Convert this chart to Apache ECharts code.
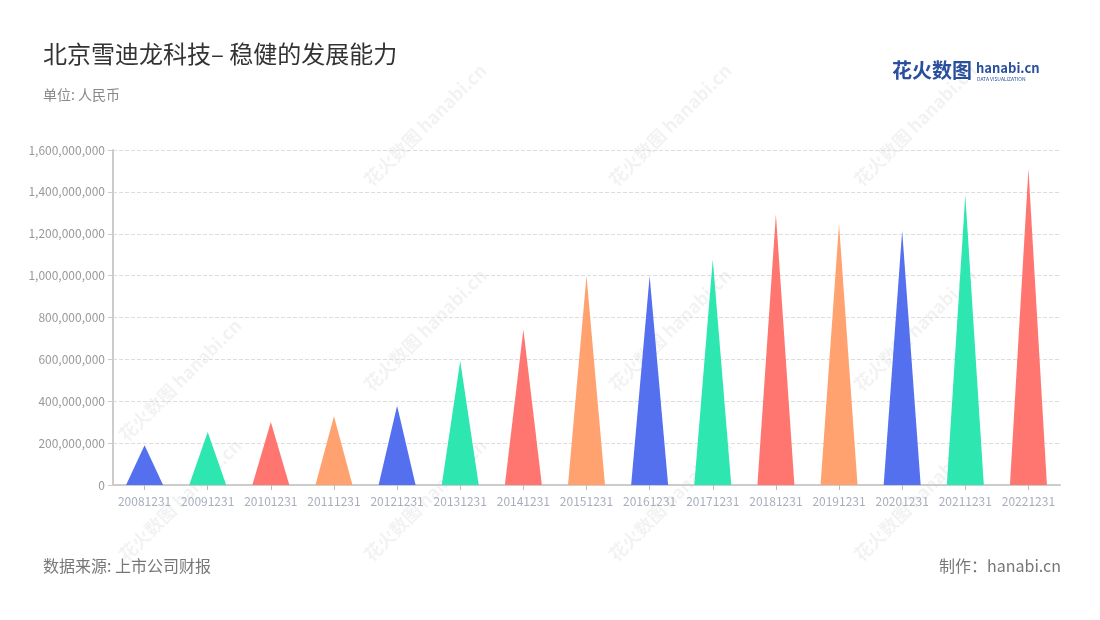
<!DOCTYPE html>
<html><head><meta charset="utf-8">
<script src="https://cdn.jsdelivr.net/npm/echarts@6/dist/echarts.min.js"></script>
<style>html,body{margin:0;padding:0;background:#fff}#c{width:1100px;height:620px}</style>
</head><body><div id="c"></div>
<script>
const categories = ['20081231','20091231','20101231','20111231','20121231','20131231','20141231','20151231','20161231','20171231','20181231','20191231','20201231','20211231','20221231'];
const values = [190000000,253000000,301000000,328000000,378000000,592000000,743000000,1000000000,998000000,1077000000,1293000000,1246000000,1214000000,1385000000,1509000000];
const palette = ['#5470ee','#2ee6b0','#ff7670','#ffa26f'];
const yTicks = {min:0, max:1600000000, interval:200000000};

const FONT = "'Noto Sans CJK SC','Noto Sans',sans-serif";
const chart = echarts.init(document.getElementById('c'));

const wm = [];
const wmPos = [[425,125],[670,125],[915,125],[180,380],[425,330],[670,330],[915,330],[180,500],[425,500],[670,500],[915,500]];
wmPos.forEach(p=>{
  wm.push({type:'text', x:p[0], y:p[1], rotation:Math.PI/4, z:0,
    style:{text:'花火数图 hanabi.cn', fill:'rgba(0,0,0,0.05)', font:"bold 18px "+FONT, align:'center', verticalAlign:'middle'}});
});

chart.setOption({
  backgroundColor:'#fff',
  textStyle:{fontFamily:FONT},
  title:[
    {text:'北京雪迪龙科技– 稳健的发展能力', left:43, top:42, padding:0, textStyle:{fontSize:24, fontWeight:'normal', color:'#333', fontFamily:FONT}},
    {text:'单位: 人民币', left:43, top:88, padding:0, textStyle:{fontSize:14, fontWeight:'normal', color:'#888', fontFamily:FONT}},
    {text:'数据来源: 上市公司财报', left:43, top:558, padding:0, textStyle:{fontSize:16, fontWeight:'normal', color:'#777', fontFamily:FONT}},
    {text:'制作：hanabi.cn', right:39, top:558, padding:0, textStyle:{fontSize:16, fontWeight:'normal', color:'#777', fontFamily:FONT}}
  ],
  graphic:[
    {type:'text', left:892, top:60, style:{text:'花火数图', fill:'#2a4f9e', font:"bold 20px "+FONT}},
    {type:'text', left:976, top:62, style:{text:'hanabi.cn', fill:'#2a4f9e', font:"bold 13px "+FONT}},
    {type:'text', left:977, top:77, style:{text:'DATA VISUALIZATION', fill:'#2a4f9e', font:"5px "+FONT}}
  ].concat(wm),
  grid:{left:113, right:40, top:150, bottom:135},
  xAxis:{
    type:'category', data:categories,
    axisLine:{lineStyle:{color:'#ccc', width:2}},
    axisTick:{show:true, alignWithLabel:true, lineStyle:{color:'#bbb'}},
    axisLabel:{color:'#a8aebb', fontSize:12, margin:10, interval:0, fontFamily:FONT}
  },
  yAxis:{
    type:'value', min:yTicks.min, max:yTicks.max, interval:yTicks.interval,
    axisLine:{show:true, lineStyle:{color:'#ccc', width:2}},
    axisTick:{show:true, lineStyle:{color:'#ccc'}},
    axisLabel:{color:'#999', fontSize:12, fontFamily:FONT, formatter:v=>v.toLocaleString('en-US')},
    splitLine:{lineStyle:{type:'dashed', color:'#ddd'}}
  },
  series:[{
    type:'pictorialBar', symbol:'triangle', symbolSize:[37,'100%'],
    data:values.map((v,i)=>({value:v, itemStyle:{color:palette[i%4]}})),
    z:5
  }]
});
</script></body></html>
